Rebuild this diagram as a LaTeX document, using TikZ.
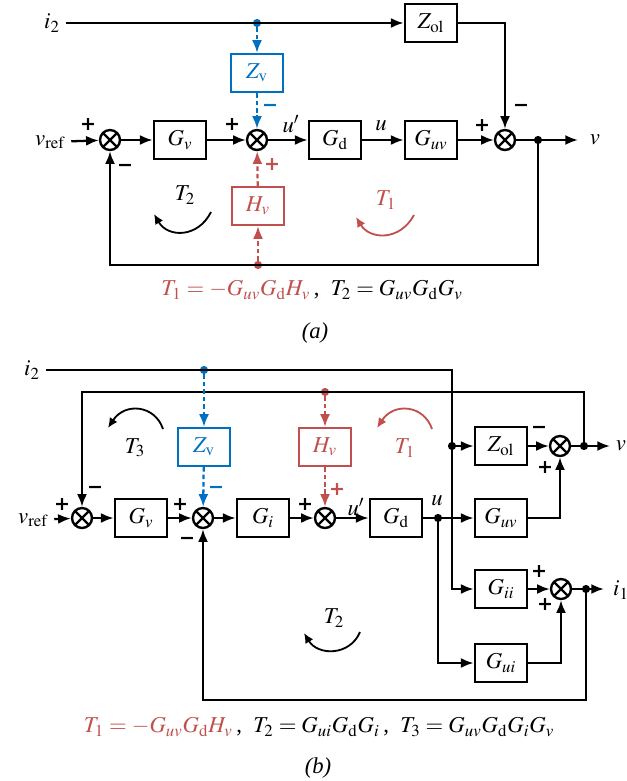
\documentclass[tikz,border=0pt]{standalone}
\usepackage{mathptmx}
\usepackage{fontspec}
\setmainfont{Liberation Serif}
\newfontfamily\signfont{DejaVu Sans}
\usepackage{xcolor}
\usepackage{tikz}
\usetikzlibrary{arrows.meta}

\definecolor{zred}{RGB}{192,80,77}
\definecolor{zblue}{RGB}{0,112,192}

\tikzset{
    every node/.style={font=\fontsize{12.5}{14}\selectfont},
    blk/.style={draw, line width=1.1pt, minimum width=29pt, minimum height=21pt, inner sep=0pt},
    sumj/.style={draw, circle, line width=1.3pt, minimum size=11pt, inner sep=0pt,
        path picture={\draw[line width=1.3pt]
            (path picture bounding box.north west) -- (path picture bounding box.south east)
            (path picture bounding box.north east) -- (path picture bounding box.south west);}},
    dot/.style={circle, fill, inner sep=0pt, minimum size=4.5pt},
    wire/.style={line width=1.25pt},
    arr/.style={wire, -{Latex[length=7pt,width=5.5pt]}},
    bluedash/.style={arr, draw=zblue, dash pattern=on 2.5pt off 1.6pt},
    reddash/.style={arr, draw=zred, dash pattern=on 2.5pt off 1.6pt},
    loopar/.style={line width=1pt, -{Latex[length=5.5pt,width=5pt]}},
    sgn/.style={font=\signfont\bfseries\fontsize{10.5}{12}\selectfont, inner sep=0pt}
}

\begin{document}
\begin{tikzpicture}[x=0.55pt, y=-0.55pt]
    \useasboundingbox (0,0) rectangle (626,781);

    % ---------------- (a) ----------------
    \node (ai2) at (52,23) {$i_2$};
    \node[dot, zblue] (adb) at (257,23) {};
    \node[blk] (aZol) at (431,23) {$Z_{\mathrm{ol}}$};
    \node[blk, draw=zblue, text=zblue] (aZv) at (257,73) {$Z_{\mathrm{v}}$};

    \node (avref) at (50,142) {$v_{\mathrm{ref}}$};
    \node[sumj] (as1) at (110,140) {};
    \node[blk] (aGv) at (180,140) {$G_v$};
    \node[sumj] (as2) at (257,140) {};
    \node[blk] (aGd) at (335,140) {$G_{\mathrm{d}}$};
    \node[blk] (aGuv) at (431,140) {$G_{uv}$};
    \node[sumj] (as3) at (505,140) {};
    \node[dot] (adv) at (538,140) {};
    \coordinate (avout) at (578,140);
    \node (av) at (595,140) {$v$};

    \node[blk, draw=zred, text=zred] (aHv) at (258,206) {$H_v$};
    \node[dot, zred] (adr) at (258,265) {};

    % wires
    \draw[arr] (ai2.east) -- (aZol.west);
    \draw[arr] (aZol.east) -| (as3.north);
    \draw[arr] (avref) -- (as1);
    \draw[arr] (as1) -- (aGv);
    \draw[arr] (aGv) -- (as2);
    \draw[arr] (as2) -- (aGd);
    \draw[arr] (aGd) -- (aGuv);
    \draw[arr] (aGuv) -- (as3);
    \draw[wire] (as3) -- (adv);
    \draw[arr] (adv) -- (avout);
    \draw[arr] (adv.center) |- (adr.center) -| (as1.south);
    \draw[bluedash] (adb) -- (aZv);
    \draw[bluedash] (aZv) -- (as2);
    \draw[reddash] (adr) -- (aHv);
    \draw[reddash] (aHv) -- (as2);

    % signs and signal names
    \foreach \x/\y/\s [count=\i] in {88/125/+, 125/168/−, 232/125/+, 482/126/+, 521/108/−}
        \node[sgn] (asg\i) at (\x,\y) {\s};
    \node[sgn, zblue] (asgb) at (270,108) {−};
    \node[sgn, zred] (asgr) at (272,165) {+};
    \node (aup) at (291,124) {$u'$};
    \node (au) at (381,126) {$u$};

    % loops
    \node (aT2) at (185,195) {$T_2$};
    \draw[loopar] (211,212) .. controls (198,238) and (168,238) .. (154,214);
    \node[zred] (aT1) at (386,200) {$T_1$};
    \draw[loopar, zred] (414,215) .. controls (400,241) and (370,240) .. (356,217);

    \node (aform) at (312,290) {\textcolor{zred}{$T_1=-G_{uv}G_{\mathrm{d}}H_v$}\,,\ \ $T_2=G_{uv}G_{\mathrm{d}}G_v$};
    \node (acap) at (315,333) {\textit{(a)}};

    % ---------------- (b) ----------------
    \node (bi2) at (32,370) {$i_2$};
    \node[dot, zblue] (bdb) at (204,370) {};
    \node[dot, zred] (bdr) at (325,392) {};
    \node[blk, draw=zblue, text=zblue] (bZv) at (204,447) {$Z_{\mathrm{v}}$};
    \node[blk, draw=zred, text=zred] (bHv) at (325,447) {$H_v$};

    \node (bvref) at (33,520) {$v_{\mathrm{ref}}$};
    \node[sumj] (bs1) at (82,518) {};
    \node[blk] (bGv) at (141,518) {$G_v$};
    \node[sumj] (bs2) at (203,518) {};
    \node[blk] (bGi) at (263,518) {$G_i$};
    \node[sumj] (bs3) at (325,518) {};
    \node[blk] (bGd) at (396,518) {$G_{\mathrm{d}}$};
    \node[dot] (bdu) at (438,518) {};
    \node[blk] (bGuv) at (501,518) {$G_{uv}$};

    \node[dot] (bdi) at (452,446) {};
    \node[blk] (bZol) at (501,446) {$Z_{\mathrm{ol}}$};
    \node[sumj] (bs4) at (560,446) {};
    \node[dot] (bdv) at (584,446) {};
    \coordinate (bvout) at (610,446);
    \node (bv) at (621,446) {$v$};

    \node[blk] (bGii) at (501,589) {$G_{ii}$};
    \node[blk] (bGui) at (501,663) {$G_{ui}$};
    \node[sumj] (bs5) at (561,589) {};
    \node[dot] (bdi1) at (586,589) {};
    \coordinate (bi1out) at (604,589);
    \node (bi1) at (621,590) {$i_1$};
    \coordinate (bfb) at (586,700);

    % wires
    \draw[wire] (bi2.east) -| (bdi.center);
    \draw[arr] (bdi.center) |- (bGii.west);
    \draw[arr] (bdi) -- (bZol);
    \draw[arr] (bZol) -- (bs4);
    \draw[wire] (bs4) -- (bdv);
    \draw[arr] (bdv) -- (bvout);
    \draw[arr] (bdv.center) |- (bdr.center) -| (bs1.north);
    \draw[arr] (bvref) -- (bs1);
    \draw[arr] (bs1) -- (bGv);
    \draw[arr] (bGv) -- (bs2);
    \draw[arr] (bs2) -- (bGi);
    \draw[arr] (bGi) -- (bs3);
    \draw[arr] (bs3) -- (bGd);
    \draw[wire] (bGd) -- (bdu);
    \draw[arr] (bdu) -- (bGuv);
    \draw[arr] (bGuv.east) -| (bs4.south);
    \draw[arr] (bdu.center) |- (bGui.west);
    \draw[arr] (bGii) -- (bs5);
    \draw[arr] (bGui.east) -| (bs5.south);
    \draw[wire] (bs5) -- (bdi1);
    \draw[arr] (bdi1) -- (bi1out);
    \draw[arr] (bdi1.center) -- (bfb) -| (bs2.south);
    \draw[bluedash] (bdb) -- (bZv);
    \draw[bluedash] (bZv) -- (bs2);
    \draw[reddash] (bdr) -- (bHv);
    \draw[reddash] (bHv) -- (bs3);

    % signs and signal names
    \foreach \x/\y/\s [count=\i] in {62/505/+, 95/490/−, 180/505/+, 187/541/−, 305/505/+,
                                     539/430/−, 545/468/+, 539/572/+, 545/605/+}
        \node[sgn] (bsg\i) at (\x,\y) {\s};
    \node[sgn, zblue] (bsgb) at (216,490) {−};
    \node[sgn, zred] (bsgr) at (337,490) {+};
    \node (bup) at (356,507) {$u'$};
    \node (bu) at (437,501) {$u$};

    % loops
    \node (bT3) at (135,448) {$T_3$};
    \draw[loopar] (163,429) .. controls (155,405) and (125,402) .. (108,428);
    \node[zred] (bT1) at (405,448) {$T_1$};
    \draw[loopar, zred] (432,429) .. controls (424,405) and (394,402) .. (377,428);
    \node (bT2) at (334,618) {$T_2$};
    \draw[loopar] (360,632) .. controls (350,656) and (318,656) .. (304,633);

    \node (bform) at (319,727) {\textcolor{zred}{$T_1=-G_{uv}G_{\mathrm{d}}H_v$}\,,\ \ $T_2=G_{ui}G_{\mathrm{d}}G_i$\,,\ \ $T_3=G_{uv}G_{\mathrm{d}}G_iG_v$};
    \node (bcap) at (318,768) {\textit{(b)}};
\end{tikzpicture}
\end{document}
